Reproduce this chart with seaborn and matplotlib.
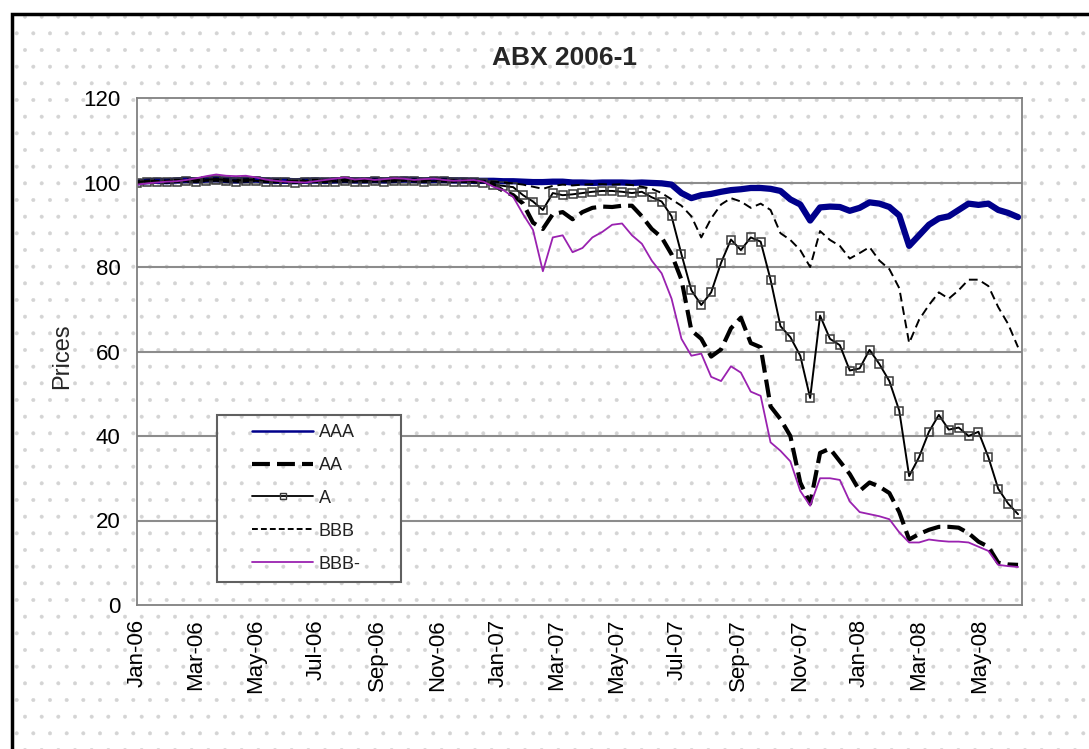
import pandas as pd
import numpy as np
import matplotlib
matplotlib.use("Agg")
import matplotlib.pyplot as plt
import matplotlib.dates as mdates
from matplotlib.lines import Line2D
from matplotlib.patches import Rectangle
import seaborn as sns

dates = pd.date_range("2006-01-01", periods=90, freq="10D")

aaa = [100.0, 100.3, 100.4, 100.3, 100.5, 100.6, 100.5, 100.7, 100.8, 100.6,
       100.5, 100.6, 100.7, 100.5, 100.4, 100.4, 100.3, 100.4, 100.5, 100.4,
       100.5, 100.6, 100.5, 100.5, 100.6, 100.5, 100.6, 100.7, 100.6, 100.5,
       100.6, 100.6, 100.5, 100.5, 100.4, 100.4,
       100.4, 100.3, 100.3, 100.2, 100.1, 100.1, 100.2, 100.2,
       100.0, 100.0, 99.9, 100.0, 100.0, 100.0, 99.9, 100.0, 99.9, 99.8,
       99.5, 97.5, 96.3, 97.0, 97.3, 97.8, 98.2, 98.4, 98.7, 98.7,
       98.5, 98.0, 96.0, 94.8, 91.0, 94.1, 94.3, 94.2, 93.3, 94.0,
       95.3, 95.0, 94.2, 92.2, 85.0, 87.5, 90.0, 91.5, 92.0, 93.5,
       95.0, 94.7, 95.0, 93.5, 92.8, 91.8]

aa = [100.0, 100.2, 100.3, 100.2, 100.4, 100.5, 100.4, 100.6, 100.7, 100.5,
      100.4, 100.5, 100.6, 100.4, 100.3, 100.3, 100.2, 100.3, 100.4, 100.3,
      100.4, 100.5, 100.4, 100.4, 100.5, 100.4, 100.5, 100.6, 100.5, 100.4,
      100.5, 100.5, 100.4, 100.4, 100.3, 100.2,
      99.5, 98.0, 97.0, 95.0, 90.5, 89.0, 92.5, 93.0, 91.3, 93.0,
      94.0, 94.3, 94.2, 94.5, 94.5, 92.0, 89.0, 87.0, 83.0, 77.0,
      65.0, 63.0, 58.8, 60.5, 65.5, 68.0, 62.0, 61.0, 47.0, 44.0,
      40.0, 29.0, 24.0, 36.0, 37.0, 34.0, 31.0, 27.0, 29.0, 28.0,
      26.5, 22.0, 15.5, 16.8, 17.8, 18.5, 18.5, 18.3, 17.0, 15.0,
      13.8, 10.0, 9.6, 9.5]

a = [100.0, 100.1, 100.2, 100.1, 100.2, 100.3, 100.2, 100.4, 100.5, 100.3,
     100.2, 100.3, 100.4, 100.2, 100.1, 100.1, 100.0, 100.1, 100.2, 100.1,
     100.2, 100.3, 100.2, 100.2, 100.3, 100.2, 100.3, 100.4, 100.3, 100.2,
     100.3, 100.3, 100.2, 100.2, 100.1, 100.0,
     99.5, 99.2, 98.9, 97.0, 95.5, 93.5, 97.5, 97.0, 97.2, 97.5,
     97.8, 98.0, 98.0, 97.8, 97.5, 97.8, 96.5, 95.5, 92.0, 83.0,
     74.5, 71.0, 74.0, 81.0, 86.5, 84.0, 87.0, 86.0, 77.0, 66.0,
     63.4, 59.0, 49.0, 68.5, 63.0, 61.5, 55.5, 56.0, 60.4, 57.0,
     53.0, 46.0, 30.5, 35.0, 41.0, 45.0, 41.5, 42.0, 40.0, 41.0,
     35.0, 27.5, 24.0, 21.5]

bbb = [100.1, 100.3, 100.4, 100.3, 100.5, 100.6, 100.5, 100.7, 100.8, 100.6,
       100.5, 100.6, 100.7, 100.5, 100.4, 100.4, 100.3, 100.4, 100.5, 100.4,
       100.5, 100.6, 100.5, 100.5, 100.6, 100.5, 100.6, 100.7, 100.6, 100.5,
       100.6, 100.6, 100.5, 100.5, 100.4, 100.4,
       100.2, 100.0, 99.8, 99.5, 99.0, 98.5, 99.2, 99.5, 99.3, 99.5,
       99.6, 99.6, 99.5, 99.6, 99.4, 99.0, 98.5, 97.5, 96.0, 94.5,
       92.0, 87.0, 91.5, 94.8, 96.3, 95.5, 94.0, 95.0, 93.5, 88.0,
       86.4, 84.0, 80.0, 88.5, 86.4, 85.0, 82.0, 83.3, 84.7, 81.5,
       79.5, 75.0, 62.0, 67.5, 71.0, 74.0, 72.5, 74.5, 77.0, 77.0,
       75.5, 70.5, 66.5, 61.0]

bbb_minus = [99.5, 99.8, 100.0, 100.2, 100.3, 100.6, 101.0, 101.5, 101.9, 101.6,
             101.5, 101.6, 101.2, 100.7, 100.4, 100.2, 100.1, 100.0, 100.3, 100.6,
             100.9, 101.2, 100.7, 100.9, 100.6, 100.8, 101.0, 100.9, 100.6, 100.8,
             100.9, 100.6, 100.4, 100.5, 100.6, 100.2,
             99.0, 98.2, 96.6, 92.5, 88.8, 79.0, 87.0, 87.5, 83.5, 84.5,
             87.0, 88.3, 90.0, 90.3, 87.5, 85.5, 81.5, 78.5, 72.5, 63.0,
             59.0, 59.5, 54.0, 53.0, 56.5, 55.0, 50.5, 49.5, 38.5, 36.5,
             34.0, 27.0, 23.5, 30.0, 30.0, 29.6, 24.5, 22.0, 21.5, 21.0,
             20.3, 17.2, 14.8, 14.8, 15.5, 15.2, 15.0, 15.0, 14.8, 13.8,
             12.8, 9.5, 9.2, 9.0]

labels = ["AAA", "AA", "A", "BBB", "BBB-"]

df = pd.DataFrame({"Date": dates, "AAA": aaa, "AA": aa, "A": a,
                   "BBB": bbb, "BBB-": bbb_minus})

sns.set_theme(style="white")
plt.rcParams["font.family"] = ["Liberation Sans", "DejaVu Sans"]
plt.rcParams["hatch.linewidth"] = 0.4

fig = plt.figure(figsize=(10.89, 7.49), dpi=100)
fig.patch.set_facecolor("white")

# Excel-ish dotted chart background and outer frame
dot_col = "#d4d4d4"
fig.patches.append(Rectangle((12 / 1089, -0.1), 1.2, 1 - 14 / 749 + 0.1,
                             transform=fig.transFigure, facecolor="white",
                             edgecolor=dot_col, hatch=".", lw=0, zorder=-10))
fig.patches.append(Rectangle((12 / 1089, -0.1), 1.2, 1 - 14 / 749 + 0.1,
                             transform=fig.transFigure, facecolor="none",
                             edgecolor="black", lw=2.5, zorder=-5))

ax = fig.add_axes([137 / 1089, 1 - 605 / 749, 885 / 1089, 507 / 749])
ax.set_facecolor("none")

navy = "#00008b"
purple = "#9a22b0"

sns.lineplot(data=df, x="Date", y="AAA", ax=ax, color=navy, linewidth=4.5)
sns.lineplot(data=df, x="Date", y="AA", ax=ax, color="black", linewidth=3,
             linestyle=(0, (4.3, 1.7)))
sns.lineplot(data=df, x="Date", y="A", ax=ax, color="black", linewidth=1.4,
             marker="s", markersize=5.5, markerfacecolor="none",
             markeredgecolor="#3a3a3a", markeredgewidth=1.1)
sns.lineplot(data=df, x="Date", y="BBB", ax=ax, color="black", linewidth=1.4,
             linestyle=(0, (4.5, 2.5)))
sns.lineplot(data=df, x="Date", y="BBB-", ax=ax, color=purple, linewidth=1.3)

ax.set_ylim(0, 120)
ax.set_yticks(range(0, 121, 20))
ax.set_xlim(pd.Timestamp("2006-01-01"), pd.Timestamp("2008-06-13"))
ax.xaxis.set_major_locator(mdates.MonthLocator(bymonth=[1, 3, 5, 7, 9, 11]))
ax.xaxis.set_major_formatter(mdates.DateFormatter("%b-%y"))

for y in range(20, 101, 20):
    ax.axhline(y, color="#8c8c8c", lw=1.5, zorder=0)

for s in ax.spines.values():
    s.set_color("#808080")
    s.set_linewidth(1.3)

ax.tick_params(axis="both", direction="out", length=4, width=1, color="#808080",
               labelsize=16, labelcolor="black")
ax.tick_params(axis="y", pad=8)
ax.tick_params(axis="x", pad=6)
plt.setp(ax.get_xticklabels(), rotation=90)

ax.set_xlabel("")
ax.set_ylabel("Prices", fontsize=17)
ax.yaxis.set_label_coords(-0.072, 0.49)

fig.text(565 / 1089, 1 - 58 / 749, "ABX 2006-1", ha="center", va="center",
         fontsize=19, fontweight="bold")

# legend box drawn like the Excel one (dotted fill, grey frame)
box = (217 / 1089, 1 - 582 / 749)
bw, bh = 184 / 1089, 167 / 749
fig.patches.append(Rectangle(box, bw, bh, transform=fig.transFigure,
                             facecolor="white", edgecolor=dot_col, hatch=".",
                             lw=0, zorder=3))
fig.patches.append(Rectangle(box, bw, bh, transform=fig.transFigure,
                             facecolor="none", edgecolor="#606060", lw=1.5,
                             zorder=3))

handles = [
    Line2D([], [], color=navy, lw=1.8),
    Line2D([], [], color="black", lw=3, linestyle=(0, (4.3, 1.7))),
    Line2D([], [], color="black", lw=1.3, marker="s", markersize=5,
           markerfacecolor="none", markeredgecolor="#3a3a3a"),
    Line2D([], [], color="black", lw=1.4, linestyle=(0, (3, 1.6))),
    Line2D([], [], color=purple, lw=1.3),
]
leg = fig.legend(handles, labels, loc="upper left",
                 bbox_to_anchor=(252 / 1089, 1 - 424 / 749),
                 bbox_transform=fig.transFigure, frameon=False, borderpad=0,
                 borderaxespad=0, fontsize=13, handlelength=3.4,
                 handletextpad=0.3, labelspacing=0.88)
leg.set_zorder(4)
for t in leg.get_texts():
    t.set_color("#222222")

fig.savefig("out.png", dpi=100)
